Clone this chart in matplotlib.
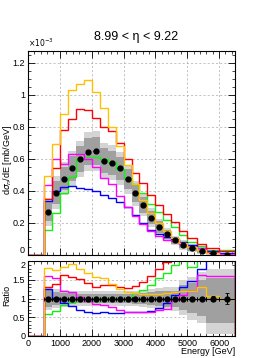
import numpy as np
import matplotlib
matplotlib.use('Agg')
import matplotlib.pyplot as plt
from matplotlib.ticker import MultipleLocator, FuncFormatter

plt.rcParams['font.family'] = ['Liberation Sans', 'DejaVu Sans']

# bin edges [GeV]; first bin 0-500 is empty
edges = np.array([0, 500, 750, 1000, 1250, 1500, 1750, 2000, 2250, 2500, 2750,
                  3000, 3250, 3500, 3750, 4000, 4250, 4500, 4750, 5000,
                  5300, 5600, 6000, 6500])

# dsigma/dE in units of 1e-3 mb/GeV, bins from 500 GeV on
data = [0.27, 0.39, 0.477, 0.54, 0.60, 0.645, 0.648, 0.588, 0.575, 0.54, 0.473,
        0.384, 0.311, 0.233, 0.175, 0.130, 0.092, 0.061, 0.044, 0.025, 0.0125, 0.003]
stat_rel = [0.01, 0.01, 0.01, 0.01, 0.01, 0.01, 0.01, 0.01, 0.01, 0.01, 0.01,
            0.01, 0.01, 0.01, 0.015, 0.015, 0.02, 0.02, 0.03, 0.05, 0.07, 0.15]
syst_up = [0.32, 0.26, 0.22, 0.20, 0.19, 0.19, 0.19, 0.19, 0.19, 0.19, 0.19,
           0.20, 0.22, 0.25, 0.28, 0.30, 0.30, 0.50, 0.58, 0.70, 0.78, 0.78]
syst_dn = [0.32, 0.26, 0.22, 0.20, 0.19, 0.19, 0.19, 0.19, 0.19, 0.19, 0.19,
           0.20, 0.22, 0.26, 0.30, 0.32, 0.34, 0.45, 0.57, 0.65, 0.95, 0.95]

orange = [0.49, 0.69, 0.88, 1.03, 1.07, 1.09, 1.02, 0.915, 0.80, 0.68, 0.56,
          0.44, 0.345, 0.262, 0.198, 0.150, 0.108, 0.073, 0.053, 0.0325, 0.0135, 0.003]
red = [0.352, 0.54, 0.78, 0.85, 0.91, 0.905, 0.855, 0.80, 0.775, 0.70, 0.60,
       0.51, 0.45, 0.375, 0.312, 0.258, 0.205, 0.15, 0.105, 0.066, 0.042, 0.026]
magenta = [0.435, 0.60, 0.57, 0.63, 0.63, 0.60, 0.55, 0.48, 0.44, 0.37, 0.30,
           0.245, 0.195, 0.15, 0.12, 0.095, 0.088, 0.066, 0.053, 0.041, 0.020, 0.0048]
blue = [0.34, 0.40, 0.425, 0.43, 0.42, 0.41, 0.40, 0.375, 0.355, 0.33, 0.30,
        0.25, 0.20, 0.155, 0.13, 0.115, 0.10, 0.08, 0.064, 0.045, 0.028, 0.012]
green = [0.159, 0.265, 0.388, 0.4875, 0.596, 0.6125, 0.6125, 0.596, 0.58, 0.534, 0.48,
         0.442, 0.384, 0.32, 0.269, 0.217, 0.175, 0.123, 0.081, 0.054, 0.034, 0.029]

models = [(green, '#11f011'), (blue, '#0000ff'), (magenta, '#ff00ff'),
          (red, '#ff0000'), (orange, '#ffc000')]

d = np.array(data)
centers = 0.5 * (edges[1:-1] + edges[2:])
halfw = 0.5 * (edges[2:] - edges[1:-1])
up = np.array(syst_up)
dn = np.array(syst_dn)

fig = plt.figure(figsize=(2.77, 3.58), dpi=100)
ax1 = fig.add_axes([0.1011, 0.2877, 0.7473, 0.5698])
ax2 = fig.add_axes([0.1011, 0.0615, 0.7473, 0.2094])

for ax in (ax1, ax2):
    ax.set_axisbelow(True)
    ax.grid(True, which='major', color='#aaaaaa', linestyle=(0, (3, 3)), lw=0.5)
    ax.set_xlim(0, 6500)
    ax.xaxis.set_major_locator(MultipleLocator(1000))
    ax.xaxis.set_minor_locator(MultipleLocator(200))
    ax.tick_params(which='both', direction='in', top=True, right=True, labelsize=6.5, pad=2)
    ax.tick_params(which='major', length=5, width=0.6)
    ax.tick_params(which='minor', length=2.5, width=0.5)
    for s in ax.spines.values():
        s.set_linewidth(0.8)

fmt = FuncFormatter(lambda v, p: f'{v:g}')

# upper panel
ax1.stairs(d * (1 + up), edges[1:], baseline=d * (1 - dn), fill=True, color='#d4d4d4', lw=0)
ax1.stairs(d * (1 + 0.7 * up), edges[1:], baseline=d * (1 - 0.7 * dn), fill=True, color='#a0a0a0', lw=0)
for vals, col in models:
    ax1.stairs(np.r_[0, vals], edges, color=col, lw=1.0)
ax1.errorbar(centers, d, xerr=halfw * 0.55, yerr=d * np.array(stat_rel), fmt='o', color='black',
             ms=3.5, elinewidth=0.8, capsize=0)
ax1.set_ylim(0, 1.273)
ax1.yaxis.set_major_locator(MultipleLocator(0.2))
ax1.yaxis.set_minor_locator(MultipleLocator(0.05))
# the "0" is placed by hand so it sits just above the ratio panel's "2"
ax1.yaxis.set_major_formatter(FuncFormatter(lambda v, p: '' if abs(v) < 1e-9 else f'{v:g}'))
ax1.tick_params(labelbottom=False)
ax1.text(-0.014, 0, '0', transform=ax1.get_yaxis_transform(), ha='right', va='bottom', fontsize=6.5)

# ratio panel
ax2.stairs(1 + up, edges[1:], baseline=1 - dn, fill=True, color='#d4d4d4', lw=0)
ax2.stairs(1 + 0.7 * up, edges[1:], baseline=1 - 0.7 * dn, fill=True, color='#a0a0a0', lw=0)
for vals, col in models:
    ax2.stairs(np.r_[0, np.array(vals) / d], edges, color=col, lw=1.0)
ax2.errorbar(centers, np.ones_like(d), xerr=halfw, yerr=np.array(stat_rel), fmt='o', color='black',
             ms=3.5, elinewidth=0.8, capsize=1.5, capthick=0.6)
ax2.set_ylim(0, 2)
ax2.yaxis.set_major_locator(MultipleLocator(0.5))
ax2.yaxis.set_minor_locator(MultipleLocator(0.1))
ax2.yaxis.set_major_formatter(FuncFormatter(lambda v, p: '' if abs(v - 2) < 1e-9 else f'{v:g}'))
ax2.xaxis.set_major_formatter(fmt)
ax2.text(-0.014, 2, '2', transform=ax2.get_yaxis_transform(), ha='right', va='top', fontsize=6.5)

fig.text(0.491, 0.897, '8.99 < \u03b7 < 9.22', ha='center', va='center', fontsize=9)
fig.text(0.101, 0.862, r'$\times10^{-3}$', ha='left', va='bottom', fontsize=5.5)
fig.text(0.026, 0.555, r'd$\sigma_{n}$/dE [mb/GeV]', rotation=90, ha='center', va='center', fontsize=6.5)
fig.text(0.026, 0.176, 'Ratio', rotation=90, ha='center', va='center', fontsize=6.5)
fig.text(0.848, 0.018, 'Energy [GeV]', ha='right', va='center', fontsize=6.5)

fig.savefig('out.png', dpi=100)
